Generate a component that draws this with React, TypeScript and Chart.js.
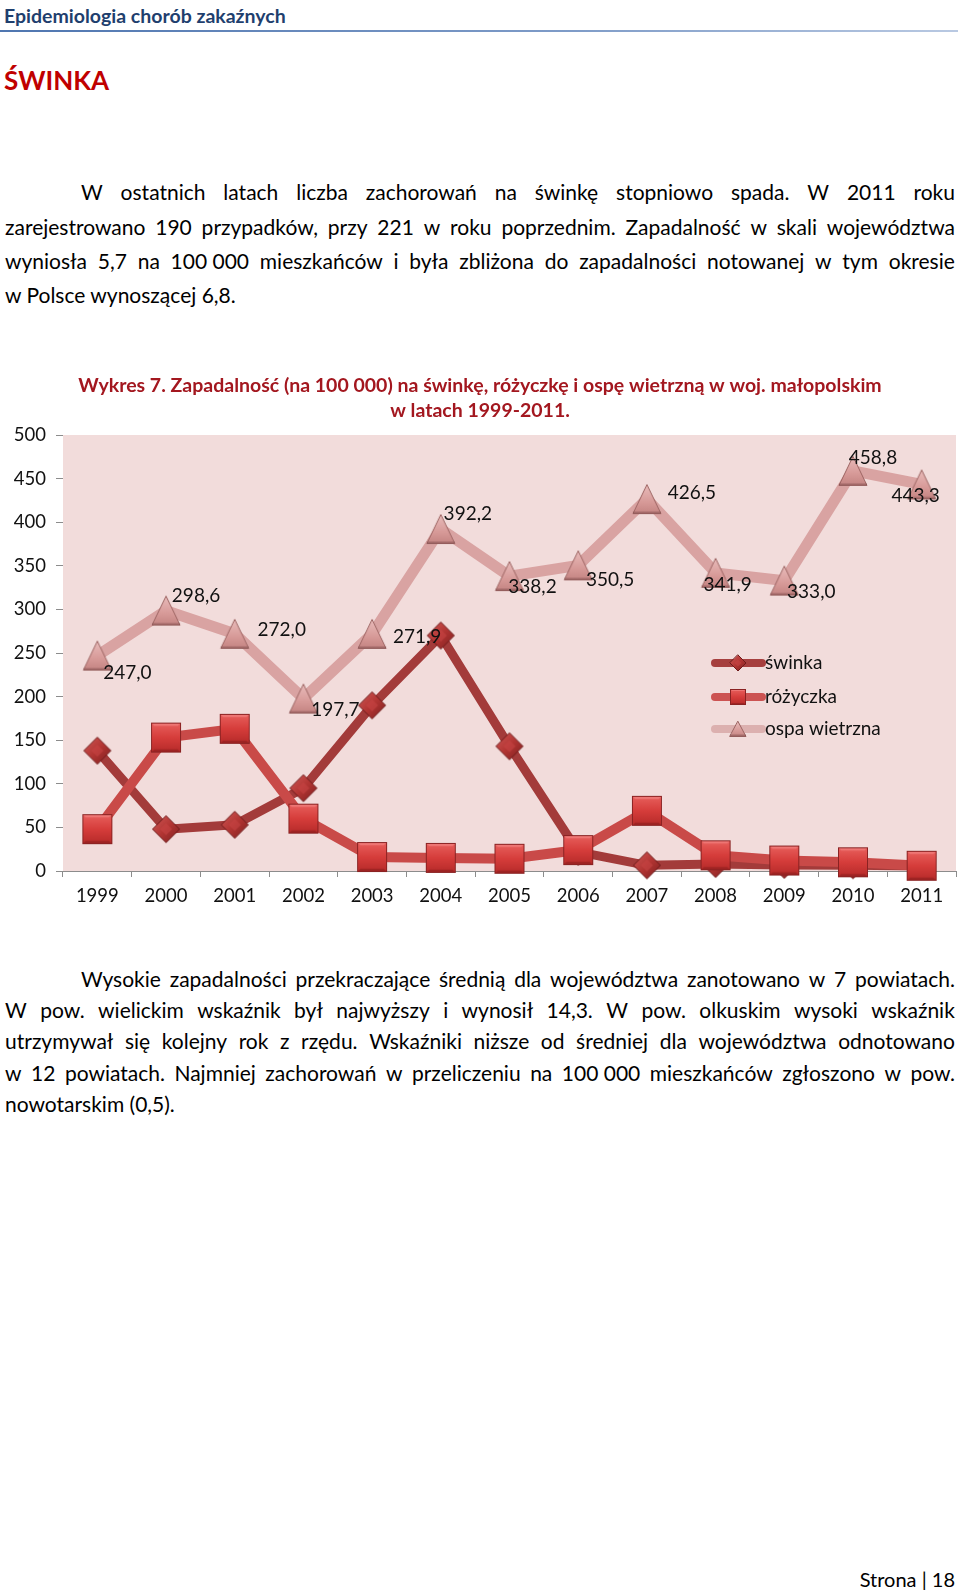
import React, { useEffect, useRef } from "react";
import { Chart, registerables } from "chart.js";

Chart.register(...registerables);

// ---------- DATA ----------
const years = ["1999", "2000", "2001", "2002", "2003", "2004", "2005", "2006", "2007", "2008", "2009", "2010", "2011"];
const swinka = [138, 48, 53, 95, 190, 270, 143, 22, 6.5, 8, 7, 6.6, 5.7];
const rozyczka = [48, 153, 163, 60, 16, 15, 14, 24, 69, 18, 12, 10, 6];
const ospa = [247.0, 298.6, 272.0, 197.7, 271.9, 392.2, 338.2, 350.5, 426.5, 341.9, 333.0, 458.8, 443.3];
const seriesNames = ["świnka", "różyczka", "ospa wietrzna"];
const yMin = 0;
const yMax = 500;
const yStep = 50;

const chartTitle = [
  "Wykres 7. Zapadalność (na 100 000) na świnkę, różyczkę i ospę wietrzną w woj. małopolskim",
  "w latach 1999-2011.",
];

// label offsets (style) for ospa data labels, px relative to point
const ospaLabelOffsets: [number, number][] = [
  [30, 17], [30, -15], [47, -4], [32, 11], [45, 3], [27, -15], [23, 11],
  [32, 15], [45, -6], [12, 12], [27, 11], [20, -13], [-6, 11],
];

const para1 = [
  "W ostatnich latach liczba zachorowań na świnkę stopniowo spada. W 2011 roku",
  "zarejestrowano 190 przypadków, przy 221 w roku poprzednim. Zapadalność w skali województwa",
  "wyniosła 5,7 na 100\u00a0000 mieszkańców i była zbliżona do zapadalności notowanej w tym okresie",
  "w Polsce wynoszącej 6,8.",
];
const para2 = [
  "Wysokie zapadalności przekraczające średnią dla województwa zanotowano w 7 powiatach.",
  "W pow. wielickim wskaźnik był najwyższy i wynosił 14,3. W pow. olkuskim wysoki wskaźnik",
  "utrzymywał się kolejny rok z rzędu. Wskaźniki niższe od średniej dla województwa odnotowano",
  "w 12 powiatach. Najmniej zachorowań w przeliczeniu na 100\u00a0000 mieszkańców zgłoszono w pow.",
  "nowotarskim (0,5).",
];

const FONT = "Lato, 'Open Sans', sans-serif";

// ---------- marker images ----------
function makeCanvas(w: number, h: number) {
  const c = document.createElement("canvas");
  c.width = w;
  c.height = h;
  return c;
}

function drawDiamond(ctx: CanvasRenderingContext2D, cx: number, cy: number, r: number) {
  const g = ctx.createLinearGradient(cx - r, cy - r, cx + r, cy + r);
  g.addColorStop(0, "#cf5856");
  g.addColorStop(0.5, "#b23533");
  g.addColorStop(1, "#7e1f1f");
  ctx.beginPath();
  ctx.moveTo(cx, cy - r);
  ctx.lineTo(cx + r, cy);
  ctx.lineTo(cx, cy + r);
  ctx.lineTo(cx - r, cy);
  ctx.closePath();
  ctx.fillStyle = g;
  ctx.fill();
  ctx.lineWidth = 1;
  ctx.strokeStyle = "#6e1a1a";
  ctx.stroke();
  ctx.beginPath();
  ctx.moveTo(cx, cy - r * 0.45);
  ctx.lineTo(cx + r * 0.45, cy);
  ctx.lineTo(cx, cy + r * 0.45);
  ctx.lineTo(cx - r * 0.45, cy);
  ctx.closePath();
  ctx.fillStyle = "rgba(200,70,70,0.55)";
  ctx.fill();
}

function drawSquare(ctx: CanvasRenderingContext2D, cx: number, cy: number, half: number) {
  const g = ctx.createLinearGradient(cx, cy - half, cx, cy + half);
  g.addColorStop(0, "#e8605d");
  g.addColorStop(0.5, "#d63d3b");
  g.addColorStop(1, "#b52a29");
  ctx.fillStyle = g;
  ctx.fillRect(cx - half, cy - half, half * 2, half * 2);
  const b = Math.max(2, half * 0.22);
  ctx.fillStyle = "rgba(255,170,170,0.35)";
  ctx.beginPath();
  ctx.moveTo(cx - half, cy - half);
  ctx.lineTo(cx + half, cy - half);
  ctx.lineTo(cx + half - b, cy - half + b);
  ctx.lineTo(cx - half + b, cy - half + b);
  ctx.closePath();
  ctx.fill();
  ctx.fillStyle = "rgba(110,20,20,0.35)";
  ctx.beginPath();
  ctx.moveTo(cx - half, cy + half);
  ctx.lineTo(cx + half, cy + half);
  ctx.lineTo(cx + half - b, cy + half - b);
  ctx.lineTo(cx - half + b, cy + half - b);
  ctx.closePath();
  ctx.fill();
  ctx.lineWidth = 1;
  ctx.strokeStyle = "#8a2222";
  ctx.strokeRect(cx - half + 0.5, cy - half + 0.5, half * 2 - 1, half * 2 - 1);
}

function drawTriangle(ctx: CanvasRenderingContext2D, cx: number, cy: number, w: number, h: number) {
  const top = cy - h / 2;
  const bot = cy + h / 2;
  const g = ctx.createLinearGradient(cx, top, cx, bot);
  g.addColorStop(0, "#e9bcbb");
  g.addColorStop(0.6, "#d79a98");
  g.addColorStop(1, "#c48482");
  ctx.beginPath();
  ctx.moveTo(cx, top);
  ctx.lineTo(cx + w / 2, bot);
  ctx.lineTo(cx - w / 2, bot);
  ctx.closePath();
  ctx.fillStyle = g;
  ctx.fill();
  ctx.lineWidth = 1;
  ctx.strokeStyle = "#9c6462";
  ctx.stroke();
  ctx.fillStyle = "rgba(120,70,70,0.45)";
  ctx.fillRect(cx - w / 2, bot - 2, w, 2);
}

function makeMarkers() {
  const d = makeCanvas(30, 30);
  drawDiamond(d.getContext("2d")!, 15, 15, 13.5);
  const s = makeCanvas(32, 32);
  drawSquare(s.getContext("2d")!, 16, 16, 15);
  const t = makeCanvas(32, 32);
  drawTriangle(t.getContext("2d")!, 16, 16, 28, 29);
  return { d, s, t };
}

// ---------- text helpers ----------
function TextLine(props: { text: string; cy: number; left: number; right: number; justify: boolean; size: number }) {
  const { text, cy, left, right, justify, size } = props;
  const lh = Math.round(size * 1.3);
  const base: React.CSSProperties = {
    position: "absolute",
    top: cy - lh / 2,
    left,
    width: right - left,
    height: lh,
    lineHeight: lh + "px",
    fontSize: size,
    fontFamily: FONT,
    color: "#000",
    whiteSpace: "pre",
  };
  if (!justify) return <div style={base}>{text}</div>;
  const words = text.split(" ").filter((w) => w.length > 0);
  return (
    <div style={{ ...base, display: "flex", justifyContent: "space-between" }}>
      {words.map((w, i) => (
        <span key={i}>{w}</span>
      ))}
    </div>
  );
}

function Paragraph(props: { lines: string[]; ys: number[]; indent: number; size: number }) {
  const { lines, ys, indent, size } = props;
  return (
    <>
      {lines.map((l, i) => (
        <TextLine
          key={i}
          text={l}
          cy={ys[i]}
          left={i === 0 ? 5 + indent : 5}
          right={955}
          justify={i < lines.length - 1}
          size={size}
        />
      ))}
    </>
  );
}

// ---------- chart ----------
function ChartBox() {
  const ref = useRef<HTMLCanvasElement>(null);

  useEffect(() => {
    if (!ref.current) return;
    const mk = makeMarkers();

    const bgPlugin = {
      id: "plotBg",
      beforeDatasetsDraw(chart: any) {
        const { ctx, chartArea: a } = chart;
        ctx.save();
        ctx.fillStyle = "#f2dcdb";
        ctx.fillRect(a.left, a.top, a.right - a.left, a.bottom - a.top);
        ctx.restore();
      },
    };

    const labelsPlugin = {
      id: "ospaLabels",
      afterDatasetsDraw(chart: any) {
        const meta = chart.getDatasetMeta(2);
        const ctx = chart.ctx;
        ctx.save();
        ctx.font = `19px ${FONT}`;
        ctx.fillStyle = "#111";
        ctx.textAlign = "center";
        ctx.textBaseline = "middle";
        meta.data.forEach((pt: any, i: number) => {
          const off = ospaLabelOffsets[i];
          const txt = ospa[i].toFixed(1).replace(".", ",");
          ctx.fillText(txt, pt.x + off[0], pt.y + off[1]);
        });
        ctx.restore();
      },
    };

    const decoPlugin = {
      id: "deco",
      afterDraw(chart: any) {
        const ctx = chart.ctx as CanvasRenderingContext2D;
        ctx.save();
        ctx.font = `bold 19.5px ${FONT}`;
        ctx.fillStyle = "#a3171f";
        ctx.textAlign = "center";
        ctx.textBaseline = "middle";
        ctx.fillText(chartTitle[0], 480, 21);
        ctx.fillText(chartTitle[1], 480, 46);

        const lx0 = 715;
        const lx1 = 762;
        const mx = 738;
        const rows = [298, 332, 364];
        const lineCols = ["#a63f3e", "#cc5352", "#dcb0af"];
        rows.forEach((y, i) => {
          ctx.lineCap = "round";
          ctx.lineWidth = 8;
          ctx.strokeStyle = lineCols[i];
          ctx.beginPath();
          ctx.moveTo(lx0, y);
          ctx.lineTo(lx1, y);
          ctx.stroke();
          if (i === 0) drawDiamond(ctx, mx, y, 8);
          if (i === 1) drawSquare(ctx, mx, y, 8);
          if (i === 2) drawTriangle(ctx, mx, y, 16, 15);
          ctx.font = `19px ${FONT}`;
          ctx.fillStyle = "#111";
          ctx.textAlign = "left";
          ctx.textBaseline = "middle";
          ctx.fillText(seriesNames[i], 765, y);
        });
        ctx.restore();
      },
    };

    // image markers are drawn at their own size; a tiny radius keeps
    // Chart.js from reserving extra overflow padding around the plot.
    const pointOpts = { pointRadius: 1, pointHoverRadius: 1, pointBorderWidth: 0 };

    const chart = new Chart(ref.current, {
      type: "line",
      data: {
        labels: years,
        datasets: [
          {
            label: seriesNames[0],
            data: swinka,
            borderColor: "#a33b3a",
            backgroundColor: "#a33b3a",
            borderWidth: 9,
            pointStyle: mk.d as any,
            ...pointOpts,
            borderJoinStyle: "round",
            clip: false as any,
            order: 2,
          },
          {
            label: seriesNames[1],
            data: rozyczka,
            borderColor: "#c94a48",
            backgroundColor: "#c94a48",
            borderWidth: 10,
            pointStyle: mk.s as any,
            ...pointOpts,
            borderJoinStyle: "round",
            clip: false as any,
            order: 1,
          },
          {
            label: seriesNames[2],
            data: ospa,
            borderColor: "#d9a3a2",
            backgroundColor: "#d9a3a2",
            borderWidth: 11,
            pointStyle: mk.t as any,
            ...pointOpts,
            borderJoinStyle: "round",
            clip: false as any,
            order: 3,
          },
        ],
      },
      options: {
        responsive: false,
        animation: false,
        events: [],
        layout: { padding: { top: 70, right: 4, left: 0, bottom: 0 } },
        plugins: {
          legend: { display: false },
          title: { display: false },
          tooltip: { enabled: false },
        },
        scales: {
          x: {
            offset: true,
            grid: {
              offset: true,
              drawOnChartArea: false,
              drawTicks: true,
              tickLength: 6,
              color: "#8c8c8c",
            },
            border: { display: true, color: "#8c8c8c", width: 1 },
            ticks: {
              color: "#111",
              font: { family: FONT, size: 18.5 },
              padding: 8,
              maxRotation: 0,
              autoSkip: false,
            },
            afterFit(scale: any) {
              scale.height = 44;
              scale.paddingLeft = 0;
              scale.paddingRight = 0;
            },
          },
          y: {
            min: yMin,
            max: yMax,
            grid: {
              drawOnChartArea: false,
              drawTicks: true,
              tickLength: 7,
              color: "#8c8c8c",
            },
            border: { display: true, color: "#8c8c8c", width: 1 },
            ticks: {
              stepSize: yStep,
              color: "#111",
              font: { family: FONT, size: 18.5 },
              padding: 10,
            },
            afterFit(scale: any) {
              scale.width = 63;
              scale.paddingTop = 0;
              scale.paddingBottom = 0;
            },
          },
        },
      },
      plugins: [bgPlugin, labelsPlugin, decoPlugin],
    });

    return () => chart.destroy();
  }, []);

  return (
    <canvas
      ref={ref}
      width={960}
      height={550}
      style={{ position: "absolute", left: 0, top: 365, width: 960, height: 550 }}
    />
  );
}

export default function App() {
  return (
    <div
      style={{
        position: "absolute",
        left: 0,
        top: 0,
        width: 960,
        height: 1590,
        overflow: "hidden",
        background: "#fff",
        fontFamily: FONT,
      }}
    >
      <div
        style={{
          position: "absolute",
          left: 4,
          top: 3,
          fontSize: 19.5,
          lineHeight: "26px",
          fontWeight: 700,
          color: "#1f3f6e",
          fontFamily: FONT,
        }}
      >
        Epidemiologia chorób zakaźnych
      </div>
      <div
        style={{
          position: "absolute",
          left: 0,
          top: 30,
          width: 958,
          height: 2,
          background: "linear-gradient(to right, #4f76b0, #7f9cc8 60%, #b9c9e2)",
        }}
      />
      <div
        style={{
          position: "absolute",
          left: 4,
          top: 62,
          fontSize: 26,
          lineHeight: "36px",
          fontWeight: 700,
          color: "#c00000",
          fontFamily: FONT,
        }}
      >
        ŚWINKA
      </div>

      <Paragraph lines={para1} ys={[191, 226, 260, 294]} indent={76} size={21} />

      <ChartBox />

      <Paragraph lines={para2} ys={[978, 1009, 1040, 1072, 1103]} indent={76} size={21} />

      <div
        style={{
          position: "absolute",
          right: 5,
          top: 1567,
          fontSize: 20,
          lineHeight: "24px",
          color: "#000",
          fontFamily: FONT,
        }}
      >
        Strona | 18
      </div>
    </div>
  );
}
